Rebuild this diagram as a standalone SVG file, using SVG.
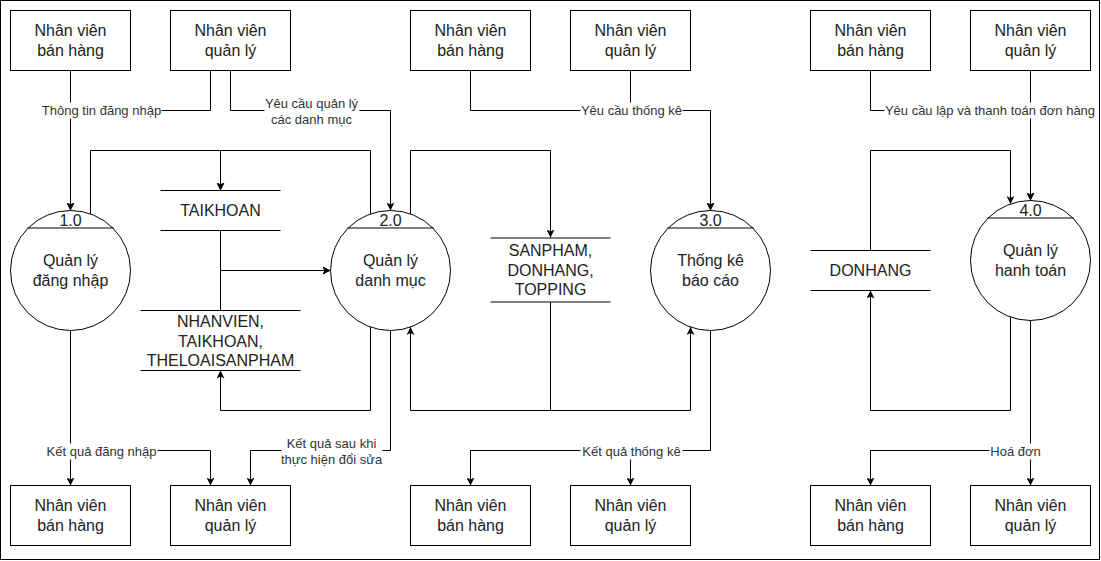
<svg xmlns="http://www.w3.org/2000/svg" width="1101" height="561" viewBox="0 0 1101 561">
<defs>
<marker id="arr" markerUnits="userSpaceOnUse" viewBox="-8 -4 8 8" markerWidth="8" markerHeight="8" refX="0" refY="0" orient="auto">
<path d="M-8,-4 L0,0 L-8,4 L-6,0 z" fill="#000"/>
</marker>
<style>
.box{fill:#fff;stroke:#000;stroke-width:1}
.proc{fill:#fff;stroke:#000;stroke-width:1}
.hdr{stroke:#000;stroke-width:1;fill:none}
.store{stroke:#000;stroke-width:1;fill:none}
.e{fill:none;stroke:#000;stroke-width:1}
.ea{fill:none;stroke:#000;stroke-width:1;marker-end:url(#arr)}
.t{font-family:"Liberation Sans",Arial,sans-serif;font-size:16px;fill:#222;text-anchor:middle}
.l{font-family:"Liberation Sans",Arial,sans-serif;font-size:13px;fill:#333;text-anchor:middle}
.lb{fill:#fff;stroke:none}
</style>
</defs>
<rect x="0" y="0" width="1101" height="561" fill="#fff"/>
<g transform="translate(0.5,0.5)">
<rect x="0" y="0" width="1099" height="559" fill="none" stroke="#000"/>

<g id="connectors">
<path class="ea" d="M70,70 V210"/>
<path class="ea" d="M210,70 V110 H70 V210"/>
<path class="ea" d="M230,70 V110 H390 V210"/>
<path class="ea" d="M90,213.4 V150 H220 V190"/>
<path class="ea" d="M370,213.4 V150 H220 V190"/>
<path class="ea" d="M220,230 V270 H330"/>
<path class="ea" d="M220,310 V270 H330"/>
<path class="ea" d="M370,326.6 V410 H220 V370"/>
<path class="ea" d="M390,330 V450 H250 V485"/>
<path class="ea" d="M70,330 V485"/>
<path class="ea" d="M70,330 V450 H210 V485"/>
<path class="ea" d="M470,70 V110 H710 V210"/>
<path class="ea" d="M630,70 V110 H710 V210"/>
<path class="ea" d="M410,213.4 V150 H550 V237"/>
<path class="ea" d="M550,302 V410 H410 V326.6"/>
<path class="ea" d="M550,302 V410 H690 V326.6"/>
<path class="ea" d="M710,330 V450 H470 V485"/>
<path class="ea" d="M710,330 V450 H630 V485"/>
<path class="ea" d="M870,70 V110 H1030 V200"/>
<path class="ea" d="M1030,70 V200"/>
<path class="ea" d="M870,250 V150 H1010 V203.4"/>
<path class="ea" d="M1010,316.6 V410 H870 V290"/>
<path class="ea" d="M1030,320 V450 H870 V485"/>
<path class="ea" d="M1030,320 V485"/>

<rect class="lb" x="42" y="102" width="119" height="16"/>
<text class="l" x="101" y="114.5">Thông tin đăng nhập</text>
<rect class="lb" x="264" y="95" width="95" height="32"/>
<text class="l" x="311" y="107.5">Yêu cầu quản lý</text>
<text class="l" x="311" y="123.5">các danh mục</text>
<rect class="lb" x="46" y="443" width="111" height="16"/>
<text class="l" x="101" y="455.5">Kết quả đăng nhập</text>
<rect class="lb" x="281" y="435" width="101" height="32"/>
<text class="l" x="331" y="447.5">Kết quả sau khi</text>
<text class="l" x="331" y="463.5">thực hiện đổi sửa</text>
<rect class="lb" x="580" y="102" width="102" height="16"/>
<text class="l" x="631" y="114.5">Yêu cầu thống kê</text>
<rect class="lb" x="580" y="443" width="102" height="16"/>
<text class="l" x="631" y="455.5">Kết quả thống kê</text>
<rect class="lb" x="884" y="102" width="211" height="16"/>
<text class="l" x="989.5" y="114.5">Yêu cầu lập và thanh toán đơn hàng</text>
<rect class="lb" x="989" y="443" width="52" height="16"/>
<text class="l" x="1015" y="455.5">Hoá đơn</text>
</g>

<g id="ext-ban-hang-1"><rect class="box" x="10" y="10" width="120" height="60"/><text class="t" x="70" y="35.5">Nhân viên</text><text class="t" x="70" y="55.5">bán hàng</text></g>
<g id="ext-quan-ly-1"><rect class="box" x="170" y="10" width="120" height="60"/><text class="t" x="230" y="35.5">Nhân viên</text><text class="t" x="230" y="55.5">quản lý</text></g>
<g id="ext-ban-hang-2"><rect class="box" x="410" y="10" width="120" height="60"/><text class="t" x="470" y="35.5">Nhân viên</text><text class="t" x="470" y="55.5">bán hàng</text></g>
<g id="ext-quan-ly-2"><rect class="box" x="570" y="10" width="120" height="60"/><text class="t" x="630" y="35.5">Nhân viên</text><text class="t" x="630" y="55.5">quản lý</text></g>
<g id="ext-ban-hang-3"><rect class="box" x="810" y="10" width="120" height="60"/><text class="t" x="870" y="35.5">Nhân viên</text><text class="t" x="870" y="55.5">bán hàng</text></g>
<g id="ext-quan-ly-3"><rect class="box" x="970" y="10" width="120" height="60"/><text class="t" x="1030" y="35.5">Nhân viên</text><text class="t" x="1030" y="55.5">quản lý</text></g>

<g id="ext-ban-hang-4"><rect class="box" x="10" y="485" width="120" height="60"/><text class="t" x="70" y="510.5">Nhân viên</text><text class="t" x="70" y="530.5">bán hàng</text></g>
<g id="ext-quan-ly-4"><rect class="box" x="170" y="485" width="120" height="60"/><text class="t" x="230" y="510.5">Nhân viên</text><text class="t" x="230" y="530.5">quản lý</text></g>
<g id="ext-ban-hang-5"><rect class="box" x="410" y="485" width="120" height="60"/><text class="t" x="470" y="510.5">Nhân viên</text><text class="t" x="470" y="530.5">bán hàng</text></g>
<g id="ext-quan-ly-5"><rect class="box" x="570" y="485" width="120" height="60"/><text class="t" x="630" y="510.5">Nhân viên</text><text class="t" x="630" y="530.5">quản lý</text></g>
<g id="ext-ban-hang-6"><rect class="box" x="810" y="485" width="120" height="60"/><text class="t" x="870" y="510.5">Nhân viên</text><text class="t" x="870" y="530.5">bán hàng</text></g>
<g id="ext-quan-ly-6"><rect class="box" x="970" y="485" width="120" height="60"/><text class="t" x="1030" y="510.5">Nhân viên</text><text class="t" x="1030" y="530.5">quản lý</text></g>

<g id="store-taikhoan"><rect x="160" y="191" width="120" height="38" fill="#fff"/><path class="store" d="M160,190 H280 M160,230 H280"/><text class="t" x="220" y="215.5">TAIKHOAN</text></g>
<g id="store-nhanvien"><rect x="140" y="311" width="160" height="58" fill="#fff"/><path class="store" d="M140,310 H300 M140,370 H300"/><text class="t" x="220" y="326.5">NHANVIEN,</text><text class="t" x="220" y="346">TAIKHOAN,</text><text class="t" x="220" y="365">THELOAISANPHAM</text></g>
<g id="store-sanpham"><rect x="490" y="238" width="120" height="63" fill="#fff"/><path class="store" d="M490,237.5 H610 M490,301.5 H610"/><text class="t" x="550" y="255.5">SANPHAM,</text><text class="t" x="550" y="275">DONHANG,</text><text class="t" x="550" y="294.5">TOPPING</text></g>
<g id="store-donhang"><rect x="810" y="251" width="120" height="38" fill="#fff"/><path class="store" d="M810,250 H930 M810,290 H930"/><text class="t" x="870" y="275.5">DONHANG</text></g>
</g>

<g id="proc-1"><circle class="proc" cx="70.5" cy="270.5" r="60"/><line class="hdr" x1="27.5" y1="228" x2="113.5" y2="228"/><text class="t" x="70.5" y="226">1.0</text><text class="t" x="70.5" y="266">Quản lý</text><text class="t" x="70.5" y="286">đăng nhập</text></g>
<g id="proc-2"><circle class="proc" cx="390.5" cy="270.5" r="60"/><line class="hdr" x1="347.5" y1="228" x2="433.5" y2="228"/><text class="t" x="390.5" y="226">2.0</text><text class="t" x="390.5" y="266">Quản lý</text><text class="t" x="390.5" y="286">danh mục</text></g>
<g id="proc-3"><circle class="proc" cx="710.5" cy="270.5" r="60"/><line class="hdr" x1="667.5" y1="228" x2="753.5" y2="228"/><text class="t" x="710.5" y="226">3.0</text><text class="t" x="710.5" y="266">Thống kê</text><text class="t" x="710.5" y="286">báo cáo</text></g>
<g id="proc-4"><circle class="proc" cx="1030.5" cy="260.5" r="60"/><line class="hdr" x1="987.5" y1="218" x2="1073.5" y2="218"/><text class="t" x="1030.5" y="216">4.0</text><text class="t" x="1030.5" y="256">Quản lý</text><text class="t" x="1030.5" y="276">hanh toán</text></g>
</svg>
